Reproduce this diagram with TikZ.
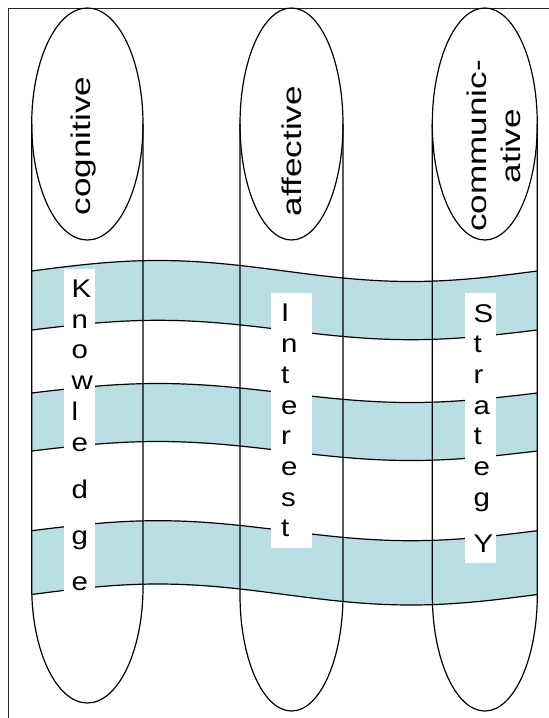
\documentclass[tikz,border=0pt]{standalone}
\usepackage{fontspec}
\setmainfont{Liberation Sans}
\newfontfamily\stackface{Liberation Sans}[FakeStretch=1.15]
\newfontfamily\labelface{Liberation Sans}[FakeStretch=1.3]
\usetikzlibrary{shapes.geometric}

\definecolor{bandblue}{RGB}{185,223,227}

\tikzset{
  fieldoval/.style={ellipse, draw, outer sep=0pt, minimum height=232pt},
  fieldname/.style={rotate=90, inner sep=0pt, font=\labelface\fontsize{27}{34}\selectfont},
  letterbox/.style={fill=white, anchor=north west, align=left, inner ysep=11pt,
    font=\stackface\fontsize{25.6}{30.7}\selectfont},
}

\begin{document}
\begin{tikzpicture}[x=1pt, y=-1pt, line width=1.2pt,
    declare function={wave(\x)=sin((\x-31.7)/505.6*360);}]
    \useasboundingbox[fill=white] (0,0) rectangle (549,718);

    % frame
    \draw[line width=1.4pt, black!85] (8.3,718) -- (8.3,8.3) -- (549,8.3);

    % the three wavy bands
    \foreach \up/\ua/\lo/\la in {271/10.5/330/9.7, 393/9.5/451/9.5, 530.7/10/594.5/10.5} {
        \fill[bandblue] plot[domain=31.7:537.3, samples=80] (\x, {\up-\ua*wave(\x)})
            -- plot[domain=537.3:31.7, samples=80] (\x, {\lo-\la*wave(\x)}) -- cycle;
        \draw plot[domain=31.7:537.3, samples=80] (\x, {\up-\ua*wave(\x)});
        \draw plot[domain=31.7:537.3, samples=80] (\x, {\lo-\la*wave(\x)});
    }

    % columns
    \node[fieldoval, minimum width=111.3pt] (cog) at (87.35,124) {};
    \node[fieldoval, minimum width=103pt] (aff) at (291.5,124) {};
    \node[fieldoval, minimum width=105pt] (com) at (484.8,124) {};

    \draw (cog.west) -- ++(0,463) arc[start angle=180, end angle=360, x radius=55.65pt, y radius=116pt] -- (cog.east);
    \draw (aff.west) -- ++(0,471) arc[start angle=180, end angle=360, x radius=51.5pt, y radius=116pt] -- (aff.east);
    \draw (com.west) -- ++(0,471) arc[start angle=180, end angle=360, x radius=52.5pt, y radius=116pt] -- (com.east);

    \node[fieldname] (cogname) at (83.5,146) {cognitive};
    \node[fieldname] (affname) at (291.5,151) {affective};
    \node[fieldname, align=center] (comname) at (494,146) {communic-\\ative};

    % spelled-out words
    \node[letterbox, text width=15.6pt, inner xsep=7.7pt] (know) at (63.3,268.3)
        {K\\n\\o\\w\\l\\e\\[17pt]d\\[15pt]g\\[15pt]e};
    \node[letterbox, text width=20.7pt, inner xsep=10.5pt] (interest) at (270,292.7)
        {I\\n\\t\\e\\r\\e\\s\\t};
    \node[letterbox, text width=14pt, inner xsep=8.7pt] (strategy) at (464.3,292.7)
        {S\\t\\r\\a\\t\\e\\g\\[15pt]Y};
\end{tikzpicture}
\end{document}
